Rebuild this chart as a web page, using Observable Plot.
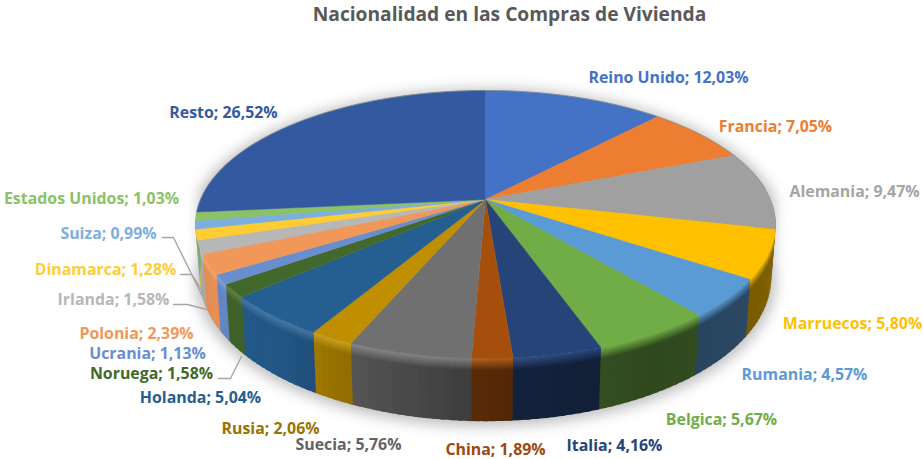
<!DOCTYPE html>
<html lang="es">
<head>
<meta charset="utf-8">
<script src="https://cdn.jsdelivr.net/npm/d3@7"></script>
<script src="https://cdn.jsdelivr.net/npm/@observablehq/plot@0.6"></script>
<style>
html,body{margin:0;padding:0;background:#fff;overflow:hidden}
#title{height:28px;line-height:28px;font:bold 19.2px "Open Sans",sans-serif;color:#595959;text-align:center;padding-left:96px;box-sizing:border-box;width:923px;white-space:nowrap}
svg{display:block}
</style>
</head>
<body>
<div id="title">Nacionalidad en las Compras de Vivienda</div>
<div id="chart"></div>
<script>
// ---- data ----
const countries = ["Reino Unido","Francia","Alemania","Marruecos","Rumania","Belgica","Italia","China","Suecia","Rusia","Holanda","Noruega","Ucrania","Polonia","Irlanda","Dinamarca","Suiza","Estados Unidos","Resto"];
const shares = [12.03,7.05,9.47,5.80,4.57,5.67,4.16,1.89,5.76,2.06,5.04,1.58,1.13,2.39,1.58,1.28,0.99,1.03,26.52];
const labelColors = ["#4472C4","#ED7D31","#A5A5A5","#FFC000","#5B9BD5","#70AD47","#264478","#9E480E","#636363","#997300","#255E91","#43682B","#698ED0","#F1975A","#B7B7B7","#FFCD33","#7CAFDD","#8CC168","#335AA1"];
const faceColors = ["#4472C4","#ED7D31","#A0A0A0","#FFC000","#5B9BD5","#70AD47","#264478","#A64F0C","#707070","#BF8F00","#255E91","#43682B","#698ED0","#F1975A","#B7B7B7","#FFCD33","#7CAFDD","#8CC168","#335AA1"];

// ---- 3D pie geometry, in units of the pie's radius ----
const PX = 285, CX = 485, CY = 199, HEAD = 28, W = 923, H = 459;
const K = 0.1866, TILT = 0.4537, DEPTH = 0.179, TAPER = 0.015;
const project = (theta, r, z) => {
  const u = r * Math.sin(theta), v = -r * Math.cos(theta), w = 1 - K * v;
  return [u / w * (1 - z * TAPER), v / w * TILT + z * DEPTH / w];
};
const fromPx = ([px, py]) => [(px - CX) / PX, (py - CY) / PX];
const deg = Math.PI / 180;
const cum = d3.cumsum(shares);
const slices = countries.map((name, i) => ({
  name, share: shares[i], i,
  a0: (i ? cum[i - 1] : 0) / 100 * 2 * Math.PI,
  a1: cum[i] / 100 * 2 * Math.PI,
  color: faceColors[i], label: labelColors[i]
}));
const arcAngles = (a0, a1, step = 1 * deg) => {
  const n = Math.max(1, Math.ceil((a1 - a0) / step));
  return d3.range(n + 1).map(j => a0 + (a1 - a0) * j / n);
};
const pts = (id, color, list) => list.map(([x, y]) => ({id, color, x, y}));

// lighting of the side wall and the rim along the angle (degrees, clockwise from the top)
const wallShade = d3.scaleLinear([80, 100, 125, 150, 180, 200, 218, 240, 280], [.42, .52, .47, .42, .52, .72, .92, .95, .85]).clamp(true);
const rimLight = d3.scaleLinear([80, 110, 150, 190, 220, 280], [-.35, -.15, -.05, .12, .16, .18]).clamp(true);
const tint = (c, f) => {
  const q = d3.rgb(c);
  return f >= 0
    ? d3.rgb(d3.interpolateRgb(q, "#fff")(f)).formatHex()
    : q.darker(-f * 2).formatHex();
};

// shadow under the pie
const outline = [];
for (const a of arcAngles(0, 2 * Math.PI, 3 * deg)) outline.push(project(a, 1.015, Math.cos(a) < 0 ? 1.03 : 0));
const shadow = pts("shadow", "#7a7a7a", outline);

// side wall in thin overlapping strips, each with a bevel band at the top
const bands = [0, .02, .04, .06, .08, .1, .12, .14, .16, .18, 1];
const wall = [];
const OVER = .8 * deg;
slices.forEach(s => {
  const as = arcAngles(s.a0, s.a1, 1.5 * deg);
  for (let j = 0; j < as.length - 1; j++) {
    const m = (as[j] + as[j + 1]) / 2 / deg;
    if (m < 78 || m > 264.5) continue;
    const base = d3.rgb(s.color), f = wallShade(m);
    const shaded = d3.rgb(base.r * f, base.g * f, base.b * f);
    const rim = tint(s.color, rimLight(m));
    const end = as[j + 1] + (j + 1 === as.length - 1 && s.i === slices.length - 2 ? 0 : OVER);
    for (let b = 0; b < bands.length - 1; b++) {
      const t = b / (bands.length - 2);
      const col = d3.rgb(d3.interpolateRgb(rim, shaded)(t)).formatHex();
      const low = b === bands.length - 2 ? bands[b + 1] : bands[b + 1] + .02;
      wall.push(...pts(`w${s.i}-${j}-${b}`, col, [
        project(as[j], 1, bands[b]), project(end, 1, bands[b]),
        project(end, 1, low), project(as[j], 1, low)
      ]));
    }
  }
});

// top faces
const faces = slices.flatMap(s => pts(`f${s.i}`, s.color,
  [project(0, 0, 0), ...arcAngles(s.a0, s.a1).map(a => project(a, 1, 0))]));

// thin soft edge along the back of the pie
const backEdge = arcAngles(265 * deg, 445 * deg).map(a => project(a, 1, 0)).map(([x, y]) => ({x, y}));

// ---- annotation layout (screen pixels of the label centres and leader bends) ----
const labelCentres = [[668,77],[775,126],[854,191],[852,323],[804,374],[721,419],[614,445],[495,449],[348,444],[270,428],[200,397],[151,373],[147,353],[136,333],[113,299],[105,269],[108,233],[91,198],[223,112]];
const leaders = [
  [[162,237],[173,237],[205,302]],
  [[180,274],[191,274],[205,295]],
  [[173,304],[187,304],[206,309]],
  [[218,378],[230,378],[241,356]]
];
const leaderPts = leaders.flatMap((l, i) => l.map(p => { const [x, y] = fromPx(p); return {id: i, x, y}; }));
const fmt = v => v.toFixed(2).replace(".", ",") + "%";
const labels = slices.map((s, i) => {
  const [x, y] = fromPx(labelCentres[i]);
  return {x, y, text: `${s.name}; ${fmt(s.share)}`, color: s.label};
});

const fillLine = (rows, extra = {}) => Plot.line(rows, {x: "x", y: "y", z: "id", fill: "color", strokeWidth: 0, ...extra});

const chart = Plot.plot({
  width: W, height: H - HEAD,
  margin: 0,
  x: {axis: null, domain: [-CX / PX, (W - CX) / PX], range: [0, W]},
  y: {axis: null, domain: [(HEAD - CY) / PX, (H - CY) / PX], range: [0, H - HEAD]},
  marks: [
    fillLine(shadow, {fillOpacity: .5, imageFilter: "blur(7px)"}),
    fillLine(wall),
    fillLine(faces, {stroke: "color", strokeWidth: .5}),
    Plot.line(backEdge, {x: "x", y: "y", stroke: "#8c8c8c", strokeWidth: 1, strokeOpacity: .7}),
    Plot.line(leaderPts, {x: "x", y: "y", z: "id", stroke: "#A6A6A6", strokeWidth: 1.4}),
    Plot.text(labels, {x: "x", y: "y", text: "text", fill: "color", fontFamily: "'Open Sans', sans-serif", fontWeight: "bold", fontSize: 15.9})
  ]
});
document.getElementById("chart").append(chart);
</script>
</body>
</html>
